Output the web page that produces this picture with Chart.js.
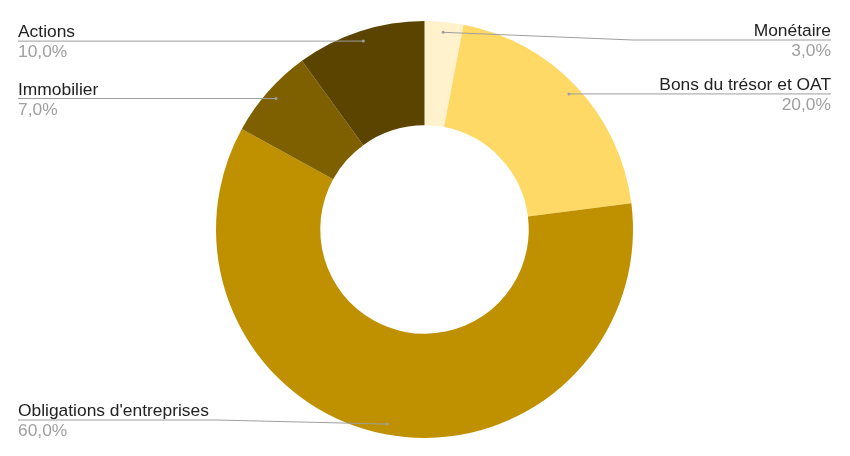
<!DOCTYPE html>
<html>
<head>
<meta charset="utf-8">
<script src="https://cdn.jsdelivr.net/npm/chart.js@4.4.1/dist/chart.umd.min.js"></script>
<style>
  html, body { margin: 0; padding: 0; background: #fff; }
  #wrap { width: 850px; height: 456px; position: relative; }
</style>
</head>
<body>
<div id="wrap"><canvas id="donut"></canvas></div>
<script>
// data, clockwise from the top
const categories = ['Monétaire', 'Bons du trésor et OAT', "Obligations d'entreprises", 'Immobilier', 'Actions'];
const shares = [3, 20, 60, 7, 10];
const percentLabels = ['3,0%', '20,0%', '60,0%', '7,0%', '10,0%'];
const sliceColors = ['#fff2cc', '#ffd966', '#bf9000', '#7f6000', '#5a4400'];

const FONT = '"Liberation Sans", Arial, sans-serif';

// leader lines + side labels, google-sheets style
const sideLabels = {
  id: 'sideLabels',
  afterDatasetsDraw(chart) {
    const ctx = chart.ctx;
    const meta = chart.getDatasetMeta(0);
    const left = 18, right = chart.width - 19;
    const minY = 40, maxY = 420;
    ctx.save();
    meta.data.forEach((arc, i) => {
      const p = arc.getProps(['x', 'y', 'startAngle', 'endAngle', 'outerRadius'], true);
      const mid = (p.startAngle + p.endAngle) / 2;
      const r = p.outerRadius * 0.95;
      const ax = p.x + Math.cos(mid) * r;
      const ay = p.y + Math.sin(mid) * r;
      const onRight = Math.cos(mid) >= 0;
      const ly = Math.min(maxY, Math.max(minY, ay));
      const endX = onRight ? right : left;
      const elbowX = onRight ? p.x + p.outerRadius : p.x - p.outerRadius;

      ctx.strokeStyle = '#9e9e9e';
      ctx.lineWidth = 1;
      ctx.beginPath();
      ctx.moveTo(ax, ay);
      if (Math.abs(ly - ay) > 0.5) ctx.lineTo(elbowX, ly);
      ctx.lineTo(endX, ly);
      ctx.stroke();

      ctx.fillStyle = '#9e9e9e';
      ctx.beginPath();
      ctx.arc(ax, ay, 1.5, 0, Math.PI * 2);
      ctx.fill();

      ctx.font = '17.4px ' + FONT;
      ctx.textAlign = onRight ? 'right' : 'left';
      ctx.textBaseline = 'alphabetic';
      ctx.fillStyle = '#222222';
      ctx.fillText(categories[i], endX, ly - 4);
      ctx.fillStyle = '#a0a0a0';
      ctx.fillText(percentLabels[i], endX, ly + 16);
    });
    ctx.restore();
  }
};

new Chart(document.getElementById('donut'), {
  type: 'doughnut',
  data: {
    labels: categories,
    datasets: [{
      data: shares,
      backgroundColor: sliceColors,
      borderWidth: 0,
      hoverOffset: 0
    }]
  },
  options: {
    responsive: true,
    maintainAspectRatio: false,
    animation: false,
    cutout: '50%',
    layout: { padding: { left: 216, right: 217, top: 21, bottom: 18 } },
    plugins: {
      legend: { display: false },
      tooltip: { enabled: false }
    }
  },
  plugins: [sideLabels]
});
</script>
</body>
</html>
